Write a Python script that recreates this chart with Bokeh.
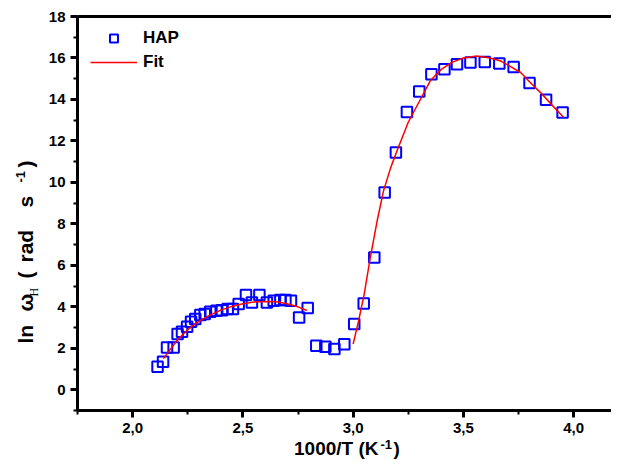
import math
from bokeh.plotting import figure
from bokeh.models import (Range1d, SingleIntervalTicker, LinearAxis, FixedTicker,
                          CustomJSTickFormatter, Label, Legend, LegendItem)
from bokeh.embed import file_html
from bokeh.resources import INLINE

# ---- data ----
hap_x = [2.113, 2.138, 2.156, 2.186, 2.204, 2.224, 2.247, 2.265, 2.284, 2.307,
         2.327, 2.352, 2.380, 2.405, 2.431, 2.455, 2.481, 2.514, 2.541, 2.575,
         2.609, 2.640, 2.670, 2.693, 2.718, 2.755, 2.794,
         2.833, 2.874, 2.915, 2.960, 3.005, 3.048,
         3.096, 3.143, 3.194, 3.244, 3.300, 3.355, 3.414, 3.471, 3.532, 3.597,
         3.663, 3.728, 3.800, 3.875, 3.950]
hap_y = [1.11, 1.35, 2.04, 2.04, 2.69, 2.80, 3.04, 3.28, 3.41, 3.60,
         3.65, 3.76, 3.81, 3.84, 3.89, 3.89, 4.13, 4.57, 4.21, 4.57,
         4.21, 4.29, 4.33, 4.33, 4.29, 3.49, 3.94,
         2.12, 2.07, 1.96, 2.20, 3.17, 4.16,
         6.38, 9.51, 11.44, 13.40, 14.38, 15.22, 15.46, 15.70, 15.78, 15.81,
         15.73, 15.57, 14.79, 13.98, 13.37]

fit1_x = [2.14, 2.20, 2.25, 2.30, 2.35, 2.40, 2.45, 2.50, 2.55, 2.60, 2.65, 2.70, 2.75, 2.79]
fit1_y = [1.50, 2.36, 2.90, 3.30, 3.60, 3.84, 4.02, 4.15, 4.23, 4.26, 4.24, 4.15, 4.00, 3.82]

fit2_x = [3.00, 3.025, 3.05, 3.078, 3.11, 3.138, 3.17, 3.20, 3.25, 3.30, 3.35, 3.40,
          3.45, 3.50, 3.56, 3.62, 3.67, 3.72, 3.76, 3.80, 3.85, 3.90, 3.955]
fit2_y = [2.20, 3.33, 4.60, 6.38, 8.20, 9.60, 10.70, 11.55, 12.90, 13.90, 14.90, 15.45,
          15.80, 16.00, 16.10, 16.00, 15.85, 15.55, 15.30, 14.85, 14.33, 13.75, 13.13]

series_labels = ["HAP", "Fit"]

# axis extents (data)
AX_X0 = 1.75
AX_Y0, AX_Y1 = -1.0, 18.0

# ---- layout (pixels) ----
W, H = 611, 460
FL, FT, FB = 77, 16, 410          # pixel positions of axis lines
PXU = 220.5                       # px per x unit
PYU = (FB - FT) / (AX_Y1 - AX_Y0) # px per y unit
XL = AX_X0 - FL / PXU
XR = AX_X0 + (W - FL) / PXU
YT = AX_Y1 + FT / PYU
YB = AX_Y0 - (H - FB) / PYU
FONT = "Liberation Sans"

p = figure(width=W, height=H, output_backend="svg", toolbar_location=None,
           x_range=Range1d(XL, XR), y_range=Range1d(YB, YT),
           x_axis_location=None, y_axis_location=None,
           min_border=0, min_border_left=0, min_border_right=0,
           min_border_top=0, min_border_bottom=0,
           background_fill_color="white", border_fill_color="white")
p.outline_line_color = None
p.xgrid.visible = False
p.ygrid.visible = False

def style(ax):
    ax.axis_line_width = 3
    ax.axis_line_color = "black"
    ax.major_tick_line_width = 3
    ax.minor_tick_line_width = 2
    ax.major_tick_in = 0
    ax.minor_tick_in = 0
    ax.major_tick_out = 7
    ax.minor_tick_out = 4
    ax.major_label_text_font = FONT
    ax.major_label_text_font_style = "bold"
    ax.major_label_text_font_size = "15px"
    ax.major_label_text_color = "black"

xax = LinearAxis(fixed_location=AX_Y0, bounds=(AX_X0, XR),
                 ticker=SingleIntervalTicker(interval=0.5, num_minor_ticks=2),
                 formatter=CustomJSTickFormatter(code="return tick.toFixed(1).replace('.', ',');"))
style(xax)
xax.major_label_standoff = 5
p.add_layout(xax, "below")

yax = LinearAxis(fixed_location=AX_X0, bounds=(AX_Y0, AX_Y1),
                 ticker=SingleIntervalTicker(interval=2, num_minor_ticks=2))
style(yax)
yax.major_label_standoff = 5
p.add_layout(yax, "left")

top = LinearAxis(fixed_location=AX_Y1, bounds=(AX_X0, XR), ticker=FixedTicker(ticks=[]),
                 axis_line_width=3, axis_line_color="black",
                 major_tick_line_color=None, minor_tick_line_color=None,
                 major_label_text_font_size="0px")
p.add_layout(top, "above")

r_hap = p.scatter(hap_x, hap_y, marker="square", size=10.5, fill_color=None,
                  line_color="#0000ff", line_width=2)
r_fit = p.line(fit1_x, fit1_y, line_color="#ff0000", line_width=1.5)
p.line(fit2_x, fit2_y, line_color="#ff0000", line_width=1.5)

legend = Legend(items=[LegendItem(label=series_labels[0], renderers=[r_hap]),
                       LegendItem(label=series_labels[1], renderers=[r_fit])],
                location=(90, H - 72), margin=0, padding=0, spacing=4,
                glyph_width=47, glyph_height=20, label_height=20, label_standoff=6,
                label_text_font=FONT, label_text_font_style="bold",
                label_text_font_size="17px", label_text_color="black",
                border_line_color=None, background_fill_alpha=0)
p.add_layout(legend)

# ---- axis titles placed by pixel position (anchor = centre line of the text) ----
def dx(px):
    return XL + px / PXU
def dy(py):
    return YT - py / PYU

def lab(text, px, py, size, angle=0.0, font=FONT, style="bold"):
    p.add_layout(Label(x=dx(px), y=dy(py), text=text, angle=angle,
                       text_font=font, text_font_style=style, text_font_size=size,
                       text_color="black", text_align="left", text_baseline="middle"))

# x title: 1000/T (K^-1)
lab("1000/T (K", 293.5, 448, "19px")
lab("-1", 380, 444, "13px")
lab(")", 393, 448, "19px")

# y title: ln ω_H (rad s^-1)
A = math.pi / 2
CX = 24.5
lab("ln", CX, 343, "21px", A)
lab("\u03c9", CX, 311, "21px", A)
lab("H", CX + 9, 296, "12px", A, font="Liberation Serif", style="normal")
lab("(", CX, 278, "21px", A)
lab("rad", CX, 262, "21px", A)
lab("s", CX, 207, "21px", A)
lab("-1", CX - 5, 182, "13px", A)
lab(")", CX, 167, "21px", A)

open("out.html", "w").write(file_html(p, INLINE))
